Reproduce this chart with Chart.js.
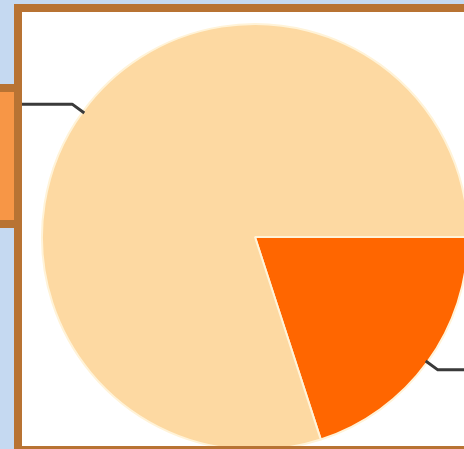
<!DOCTYPE html>
<html>
<head>
<meta charset="utf-8">
<script src="https://cdn.jsdelivr.net/npm/chart.js@4/dist/chart.umd.min.js"></script>
<style>
  html, body { margin: 0; padding: 0; width: 464px; height: 449px; overflow: hidden; background: #c5d9f1; }
  #side { position: absolute; left: -8px; top: 84px; width: 14px; height: 128px; background: #f79646; border: 8px solid #b87333; }
  #frame { position: absolute; left: 14px; top: 4px; width: 480px; height: 434px; border: 8px solid #b87333; background: #fff; overflow: hidden; }
  #myChart { position: absolute; left: 0; top: 0; }
</style>
</head>
<body>
<div id="side"></div>
<div id="frame"><canvas id="myChart" width="470" height="440"></canvas></div>
<script>
const categories = ['Share A', 'Share B'];
const values = [20, 80];
const colors = ['#ff6600', '#fdd9a2'];

// leader lines from each slice's middle, bent out to the side
const leaderLines = {
  id: 'leaderLines',
  afterDatasetsDraw(chart) {
    const c = chart.ctx;
    c.save();
    c.strokeStyle = '#3a3a3a';
    c.lineWidth = 3;
    c.lineJoin = 'round';
    chart.getDatasetMeta(0).data.forEach(arc => {
      const p = arc.getProps(['x', 'y', 'startAngle', 'endAngle', 'outerRadius'], true);
      const a = (p.startAngle + p.endAngle) / 2;
      const x0 = p.x + Math.cos(a) * (p.outerRadius - 2);
      const y0 = p.y + Math.sin(a) * (p.outerRadius - 2);
      const x1 = p.x + Math.cos(a) * (p.outerRadius + 13);
      const y1 = p.y + Math.sin(a) * (p.outerRadius + 13);
      const x2 = Math.cos(a) < 0 ? 0 : chart.width;
      c.beginPath();
      c.moveTo(x0, y0);
      c.lineTo(x1, y1);
      c.lineTo(x2, y1);
      c.stroke();
    });
    c.restore();
  }
};

const ctx = document.getElementById('myChart').getContext('2d');
const myChart = new Chart(ctx, {
  type: 'pie',
  data: {
    labels: categories,
    datasets: [
      {
        data: values,
        backgroundColor: colors,
        borderColor: '#fff3d8',
        borderWidth: 2,
      },
    ],
  },
  options: {
    responsive: false,
    animation: false,
    rotation: 90,
    radius: 213,
    layout: { padding: { left: 20, top: 12, right: 24, bottom: 2 } },
    plugins: {
      legend: { display: false },
      tooltip: { enabled: false },
    },
  },
  plugins: [leaderLines],
});
</script>
</body>
</html>
